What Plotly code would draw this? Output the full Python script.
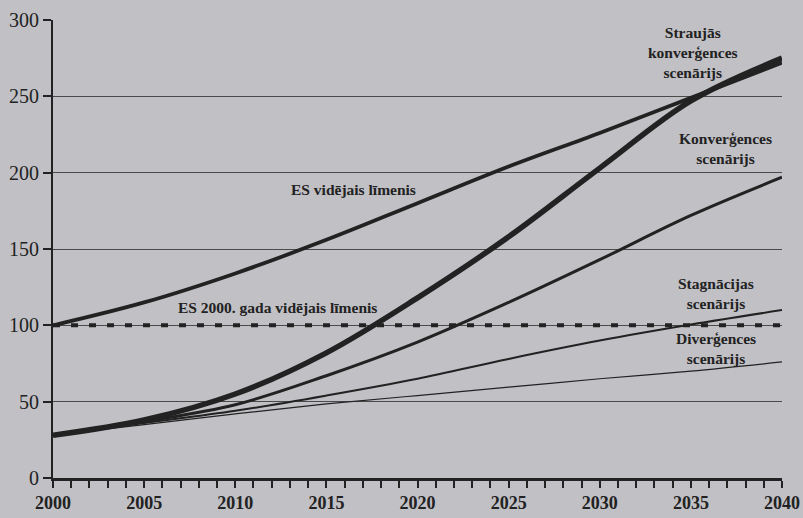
import plotly.graph_objects as go

years = [2000, 2005, 2010, 2015, 2020, 2025, 2030, 2035, 2040]
es_avg = [100, 115, 134, 156, 180, 204, 226, 249, 272]
es_2000 = [100, 100, 100, 100, 100, 100, 100, 100, 100]
fast_conv = [28, 38, 55, 82, 118, 158, 203, 247, 275]
conv = [28, 37, 48, 67, 89, 115, 143, 172, 197]
stagn = [28, 36, 44, 54, 65, 78, 90, 100.5, 110]
diverg = [28, 35, 42, 48.5, 54, 59.5, 65, 70, 76]

x_ticks = list(range(2000, 2041, 5))
y_ticks = [0, 50, 100, 150, 200, 250, 300]

ink = "#222222"
bg = "#c1c0c5"

fig = go.Figure()
fig.add_trace(go.Scatter(x=years, y=es_2000, mode="lines",
                         line=dict(color=ink, width=4, dash="7px,11px")))
fig.add_trace(go.Scatter(x=years, y=diverg, mode="lines", line=dict(color=ink, width=1.2, shape="spline")))
fig.add_trace(go.Scatter(x=years, y=stagn, mode="lines", line=dict(color=ink, width=2, shape="spline")))
fig.add_trace(go.Scatter(x=years, y=conv, mode="lines", line=dict(color=ink, width=3, shape="spline")))
fig.add_trace(go.Scatter(x=years, y=es_avg, mode="lines", line=dict(color=ink, width=3.8, shape="spline")))
fig.add_trace(go.Scatter(x=years, y=fast_conv, mode="lines", line=dict(color=ink, width=5.5, shape="spline")))

lab_font = dict(family="Liberation Serif", size=15.5, color=ink, weight="bold")
labels = [
    (2035.1, 279, "Straujās<br>konverģences<br>scenārijs"),
    (2036.9, 216, "Konverģences<br>scenārijs"),
    (2016.5, 189, "ES vidējais līmenis"),
    (2012.3, 112, "ES 2000. gada vidējais līmenis"),
    (2036.4, 121, "Stagnācijas<br>scenārijs"),
    (2036.4, 85, "Diverģences<br>scenārijs"),
]
for x, y, t in labels:
    fig.add_annotation(x=x, y=y, text=t, showarrow=False, font=lab_font,
                       xanchor="center", yanchor="middle", align="center")

fig.update_layout(
    width=803, height=518,
    margin=dict(l=53, r=21, t=20, b=40),
    paper_bgcolor=bg, plot_bgcolor=bg,
    showlegend=False,
    hovermode=False,
    xaxis=dict(range=[2000, 2040], tickvals=x_ticks, ticktext=[str(v) for v in x_ticks],
               automargin=False,
               showgrid=False, zeroline=False, showline=True, linecolor=ink, linewidth=2.5,
               ticks="outside", ticklen=7, tickwidth=2, tickcolor=ink,
               minor=dict(dtick=1, ticks="outside", ticklen=7, tickwidth=2, tickcolor=ink),
               tickfont=dict(family="Liberation Serif", size=18, color=ink, weight="bold")),
    yaxis=dict(range=[0, 300], tickvals=y_ticks, showgrid=True, gridcolor="#4a4a4a", gridwidth=1,
               automargin=False,
               zeroline=False, showline=True, linecolor=ink, linewidth=2,
               ticks="outside", ticklen=8, tickwidth=2, tickcolor=ink,
               tickfont=dict(family="Liberation Serif", size=20, color=ink)),
)
fig.write_html("out.html",
               config={"displayModeBar": False},
               post_script="document.body.style.margin='0';document.body.style.padding='0';"
                           "document.body.style.overflow='hidden';"
                           "document.body.style.background='" + bg + "';")
